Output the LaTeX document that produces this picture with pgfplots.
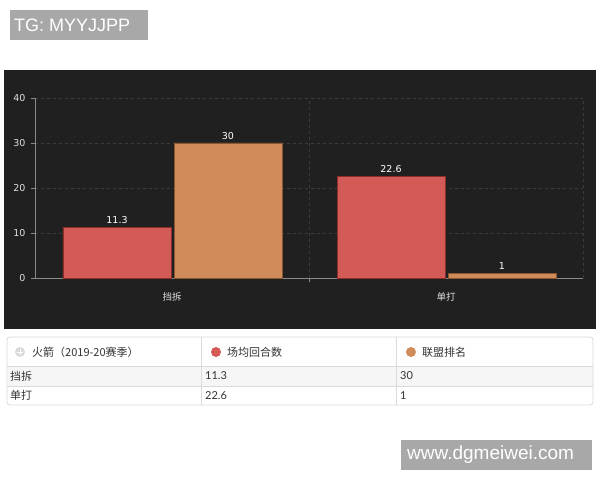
\documentclass[border=0pt]{standalone}
\usepackage{fontspec}
\setmainfont{DejaVu Sans}
\newfontfamily\cjk{Noto Sans CJK SC}
\newfontfamily\lato{Lato}
\newfontfamily\arial{Liberation Sans}
\usepackage{pgfplots}
\pgfplotsset{compat=1.18}

\definecolor{panel}{HTML}{202020}
\definecolor{barred}{HTML}{D35B57}
\definecolor{barredge}{HTML}{8E2E2B}
\definecolor{barorange}{HTML}{D08B5A}
\definecolor{baroedge}{HTML}{8C5630}
\definecolor{axisgray}{HTML}{8A8A8A}
\definecolor{gridgray}{HTML}{3C3C3C}
\definecolor{ticktext}{HTML}{E0E0E0}
\definecolor{stamp}{HTML}{A8A8A8}
\definecolor{tabline}{HTML}{DADADA}
\definecolor{tabtext}{HTML}{333333}
\definecolor{rowgray}{HTML}{F6F6F6}

\begin{document}
\begin{tikzpicture}[x=1pt,y=1pt]
\useasboundingbox (0,0) rectangle (600,480);
\fill[white] (0,0) rectangle (600,480);

% top label
\fill[stamp] (10,440) rectangle (148,470);
\node[anchor=west, text=white, inner sep=0pt,
  font=\arial\fontsize{18}{20}\selectfont] at (14,455) {TG: MYYJJPP};

% dark chart panel
\fill[panel] (4,151) rectangle (596,410);

\begin{axis}[
  at={(35pt,202pt)}, anchor=south west,
  scale only axis, width=548pt, height=180pt,
  xmin=-0.5, xmax=1.5, ymin=0, ymax=40,
  axis x line*=bottom, axis y line*=left,
  axis line style={draw=axisgray, line width=0.6pt},
  ytick={0,10,20,30,40},
  xtick={0,1}, xticklabels={挡拆,单打},
  x tick style={draw=none},
  y tick style={draw=axisgray, line width=0.6pt},
  major tick length=4pt, tick align=outside,
  ymajorgrids, xmajorgrids=false,
  grid style={dashed, gridgray, line width=0.6pt},
  extra x ticks={0.5,1.5}, extra x tick labels={},
  extra x tick style={grid=major},
  /pgf/number format/assume math mode=true,
  yticklabel style={text=ticktext, font=\fontsize{9.5}{11}\selectfont, xshift=-2pt},
  xticklabel style={text=ticktext, font=\cjk\fontsize{9.5}{11}\selectfont, yshift=-7pt},
  clip=false,
]
\addplot[ybar, bar width=108pt, bar shift=-55pt, fill=barred, draw=barredge, line width=0.5pt,
  nodes near coords,
  every node near coord/.append style={text=white, font=\fontsize{9.5}{11}\selectfont, xshift=-55pt}]
  coordinates {(0,11.3) (1,22.6)};
\addplot[ybar, bar width=108pt, bar shift=56pt, fill=barorange, draw=baroedge, line width=0.5pt,
  nodes near coords,
  every node near coord/.append style={text=white, font=\fontsize{9.5}{11}\selectfont, xshift=56pt}]
  coordinates {(0,30) (1,1)};
\draw[axisgray, line width=0.6pt] (axis cs:0.5,0) -- ([yshift=-4pt]axis cs:0.5,0);
\end{axis}

% table
\fill[rowgray] (7.5,94) rectangle (592.5,114);
\draw[tabline, line width=0.8pt, rounded corners=3pt] (7,75) rectangle (593,143);
\draw[tabline, line width=0.8pt] (7,114) -- (593,114);
\draw[tabline, line width=0.8pt] (7,94) -- (593,94);
\draw[tabline, line width=0.8pt] (201,75) -- (201,143);
\draw[tabline, line width=0.8pt] (396,75) -- (396,143);

\fill[tabline] (20,128) circle (5);
\draw[white, line width=1pt] (17,128) -- (23,128) (20,125) -- (20,131);
\fill[barred] (216,128) circle (5);
\fill[barorange] (411,128) circle (5);

\begin{scope}[every node/.style={anchor=west, text=tabtext, inner sep=0pt,
  font=\cjk\fontsize{11}{13}\selectfont}]
\node at (32,128) {火箭（2019-20赛季）};
\node at (227,128) {场均回合数};
\node at (422,128) {联盟排名};
\node at (10,104) {挡拆};
\node at (10,84.5) {单打};
\node[font=\lato\fontsize{11}{13}\selectfont] at (205,104) {11.3};
\node[font=\lato\fontsize{11}{13}\selectfont] at (205,84.5) {22.6};
\node[font=\lato\fontsize{11}{13}\selectfont] at (400,104) {30};
\node[font=\lato\fontsize{11}{13}\selectfont] at (400,84.5) {1};
\end{scope}

% watermark
\fill[stamp] (401,10) rectangle (592,40);
\node[anchor=west, text=white, inner sep=0pt,
  font=\arial\fontsize{19}{21}\selectfont] at (407,25) {www.dgmeiwei.com};
\end{tikzpicture}
\end{document}
